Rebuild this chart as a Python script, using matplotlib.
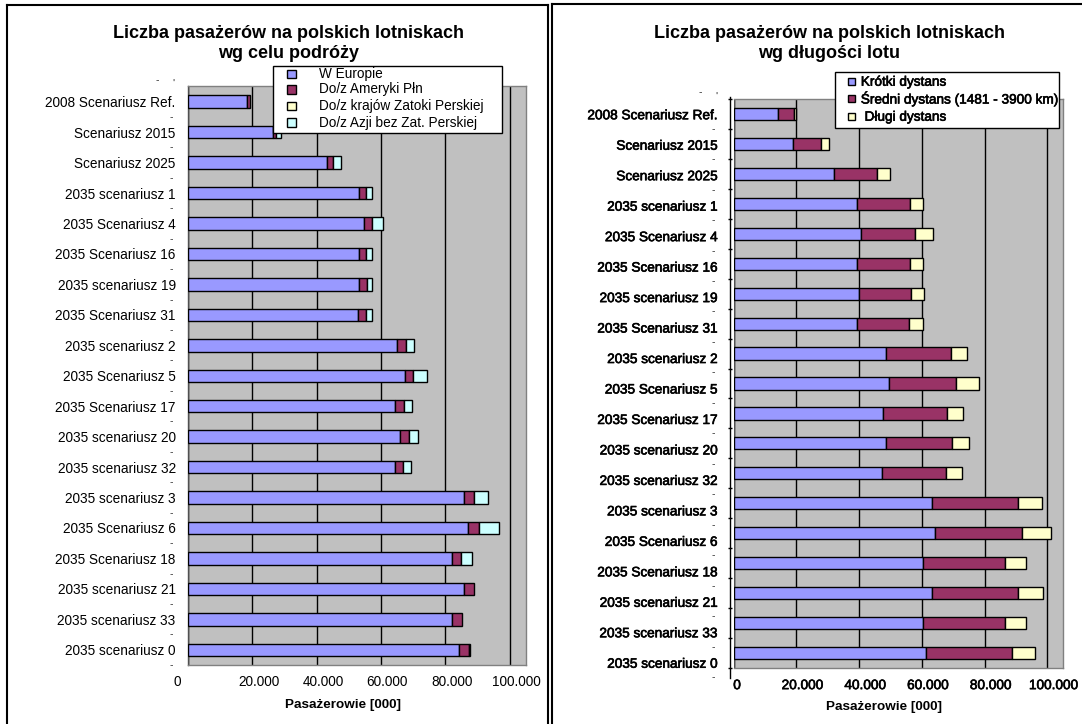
import matplotlib
matplotlib.use("Agg")
import matplotlib.pyplot as plt
import numpy as np
from matplotlib.patches import Rectangle
from matplotlib.lines import Line2D
from matplotlib.transforms import ScaledTranslation, blended_transform_factory
import matplotlib.patheffects as pe

plt.rcParams['font.family'] = ['Liberation Sans', 'DejaVu Sans']

W, H, DPI = 1082, 724, 100

# ---------------------------------------------------------------- data
categories = [
    "2008 Scenariusz Ref.", "Scenariusz 2015", "Scenariusz 2025",
    "2035 scenariusz 1", "2035 Scenariusz 4", "2035 Scenariusz 16",
    "2035 scenariusz 19", "2035 Scenariusz 31", "2035 scenariusz 2",
    "2035 Scenariusz 5", "2035 Scenariusz 17", "2035 scenariusz 20",
    "2035 scenariusz 32", "2035 scenariusz 3", "2035 Scenariusz 6",
    "2035 Scenariusz 18", "2035 scenariusz 21", "2035 scenariusz 33",
    "2035 scenariusz 0",
]

# passengers by destination [000]
w_europie = [18200, 26300, 43300, 53300, 54700, 53300, 53300, 52900, 65000,
             67500, 64400, 65900, 64300, 85700, 87100, 82100, 85800, 82100, 84200]
ameryka_pln = [1000, 1200, 1900, 2000, 2600, 2200, 2500, 2600, 2900,
               2500, 2700, 2900, 2700, 3200, 3500, 2900, 3200, 3100, 3100]
zatoka_perska = [0, 0, 0, 0, 0, 0, 0, 0, 0,
                 0, 0, 0, 0, 0, 0, 0, 0, 0, 0]
azja = [0, 1300, 2400, 2000, 3500, 1800, 1500, 1700, 2400,
        4300, 2600, 2600, 2300, 4500, 6200, 3200, 0, 0, 300]

# passengers by flight length [000]
krotki = [14050, 19000, 32100, 39500, 40600, 39500, 39900, 39500, 48700,
          49700, 47700, 48700, 47300, 63400, 64200, 60300, 63400, 60300, 61500]
sredni = [5150, 8900, 13500, 16700, 17300, 16700, 16700, 16400, 20500,
          21100, 20400, 20900, 20400, 27200, 27700, 26100, 27200, 26300, 27300]
dlugi = [700, 2400, 4400, 4100, 5700, 4100, 4000, 4400, 5100,
         7400, 5100, 5500, 5200, 7600, 9400, 6800, 8100, 6600, 7400]

x_ticks = [0, 20000, 40000, 60000, 80000, 100000]
x_tick_labels = ["0", "20.000", "40.000", "60.000", "80.000", "100.000"]

left_title = ["Liczba pasażerów na polskich lotniskach", "wg celu podróży"]
right_title = ["Liczba pasażerów na polskich lotniskach", "wg długości lotu"]
x_label = "Pasażerowie [000]"
left_legend = ["W Europie", "Do/z Ameryki Płn", "Do/z krajów Zatoki Perskiej",
               "Do/z Azji bez Zat. Perskiej"]
right_legend = ["Krótki dystans", "Średni dystans (1481 - 3900 km)", " Długi dystans"]

BLUE, MAROON, YELLOW, CYAN = "#9999FF", "#993366", "#FFFFCC", "#CCFFFF"
GRAY_BG = "#C0C0C0"
FS = 9.8
HEAVY = [pe.withStroke(linewidth=0.45, foreground="black")]

# ---------------------------------------------------------------- figure
fig = plt.figure(figsize=(W / DPI, H / DPI), dpi=DPI)
fig.patch.set_facecolor("white")


def fbox(x0, y0, x1, y1):
    return [x0 / W, 1 - y1 / H, (x1 - x0) / W, (y1 - y0) / H]


def fpt(x, y):
    return x / W, 1 - y / H


def px_shift(artist, dx, dy):
    artist.set_transform(artist.get_transform() +
                         ScaledTranslation(dx / DPI, -dy / DPI, fig.dpi_scale_trans))


axL = fig.add_axes(fbox(188, 86.5, 525.6, 665))
axR = fig.add_axes(fbox(733.5, 99.3, 1063, 667.7))

ypos = np.arange(len(categories))


def stacked(ax, series, colors, height):
    base = np.zeros(len(categories))
    for vals, col in zip(series, colors):
        vals = np.asarray(vals, dtype=float)
        m = vals > 0
        ax.barh(ypos[m], vals[m], left=base[m], height=height, color=col,
                edgecolor="black", linewidth=1.0, zorder=3)
        base += vals


stacked(axL, [w_europie, ameryka_pln, zatoka_perska, azja],
        [BLUE, MAROON, YELLOW, CYAN], 0.41)
stacked(axR, [krotki, sredni, dlugi], [BLUE, MAROON, YELLOW], 0.41)

for ax in (axL, axR):
    ax.set_facecolor(GRAY_BG)
    ax.set_xlim(0, 105000)
    ax.set_ylim(len(categories) - 0.5, -0.5)
    ax.set_xticks(x_ticks)
    ax.set_xticklabels(x_tick_labels)
    ax.grid(axis="x", color="black", linewidth=1.0, zorder=1)
    ax.set_axisbelow(True)
    ax.tick_params(axis="x", length=0, pad=7.5, labelsize=FS)
    ax.set_yticks(ypos)
    ax.set_yticklabels(categories)
    ax.tick_params(axis="y", which="major", length=0, pad=8.9, labelsize=FS)
    for s in ax.spines.values():
        s.set_color("#808080")
        s.set_linewidth(1.0)
    ax.set_xlabel(x_label, fontsize=9.7, fontweight="bold")
    ax.xaxis.label.set_va("center")

axL.spines["left"].set_color("#505050")
axL.xaxis.set_label_coords(0.459, -0.0691)
axR.xaxis.set_label_coords(0.457, -0.0686)

# right chart: value axis line drawn just outside the plot area
axR.spines["left"].set_position(("outward", 2.5))
axR.spines["left"].set_color("black")
axR.spines["left"].set_bounds(-0.57, 18.85)
axR.set_yticks(np.arange(-0.5, len(categories), 1.0), minor=True)
axR.tick_params(axis="y", which="minor", length=3.5, direction="inout",
                width=1.0, color="black")
axR.axvline(0, color="#505050", linewidth=1.0, zorder=2)

# tick label placement
for i, lab in enumerate(axL.get_xticklabels()):
    px_shift(lab, -10.7 if i == 0 else 6.5, 0)
for i, lab in enumerate(axR.get_xticklabels()):
    px_shift(lab, 3.5 if i == 0 else 6.0, 0)
    lab.set_path_effects(HEAVY)

label_drop = [-0.5 + 10.0 * i / 18 for i in range(len(categories))]
for i, lab in enumerate(axR.get_yticklabels()):
    px_shift(lab, 0, label_drop[i])
    lab.set_path_effects(HEAVY)

# small dash marks beside the category axis
trL = blended_transform_factory(fig.transFigure, axL.transData)
for i in range(len(categories)):
    axL.text(171 / W, i + 0.5, "-", transform=trL, ha="center", va="center",
             fontsize=7.5, color="#333333", clip_on=False)
trR = blended_transform_factory(fig.transFigure, axR.transData)
for i in range(len(categories)):
    t = axR.text(713 / W, i, "-", transform=trR, ha="center", va="center",
                 fontsize=7.5, color="#333333", clip_on=False)
    px_shift(t, 0, label_drop[i] + 15)
for (x, y, s) in [(157, 80, "-"), (173, 84, "'"), (700, 92, "-"), (716, 97, "'")]:
    fig.text(*fpt(x, y), s, ha="center", va="center", fontsize=7.5, color="#333333")

# titles
for cx, lines in ((288.5, left_title), (829.3, right_title)):
    for y, line in zip((34, 54), lines):
        fig.text(*fpt(cx, y), line, ha="center", va="center",
                 fontsize=13, fontweight="bold")

# legends
def legend(box, mx, ys, msize, tx, labels, colors, effects=None):
    x0, y0, x1, y1 = box
    fig.add_artist(Rectangle(fpt(x0, y1), (x1 - x0) / W, (y1 - y0) / H,
                             transform=fig.transFigure, facecolor="white",
                             edgecolor="black", linewidth=1.0, zorder=10))
    for y, lab, col in zip(ys, labels, colors):
        fig.add_artist(Rectangle(fpt(mx - msize / 2, y + msize / 2), msize / W, msize / H,
                                 transform=fig.transFigure, facecolor=col,
                                 edgecolor="black", linewidth=1.0, zorder=11))
        t = fig.text(*fpt(tx, y), lab, ha="left", va="center", fontsize=FS, zorder=12)
        if effects:
            t.set_path_effects(effects)


legend((273, 65.7, 502, 133.3), 291.3, [74, 89.3, 106, 122.7], 8.5, 319,
       left_legend, [BLUE, MAROON, YELLOW, CYAN])
legend((835.4, 71.7, 1058.8, 127.7), 851, [81.7, 98.3, 116.7], 7, 860.8,
       right_legend, [BLUE, MAROON, YELLOW], HEAVY)

# panel frames
def fline(xs, ys, lw=1.5):
    fig.add_artist(Line2D([x / W for x in xs], [1 - y / H for y in ys],
                          transform=fig.transFigure, color="black", linewidth=lw,
                          zorder=20))


fline([7, 7], [5, H + 5])
fline([7, 548.4], [5, 5])
fline([548.4, 548.4], [5, H + 5])
fline([551.8, 551.8], [4, H + 5])
fline([551.8, W + 5], [4, 4])

fig.savefig("out.png", dpi=DPI, facecolor="white")
